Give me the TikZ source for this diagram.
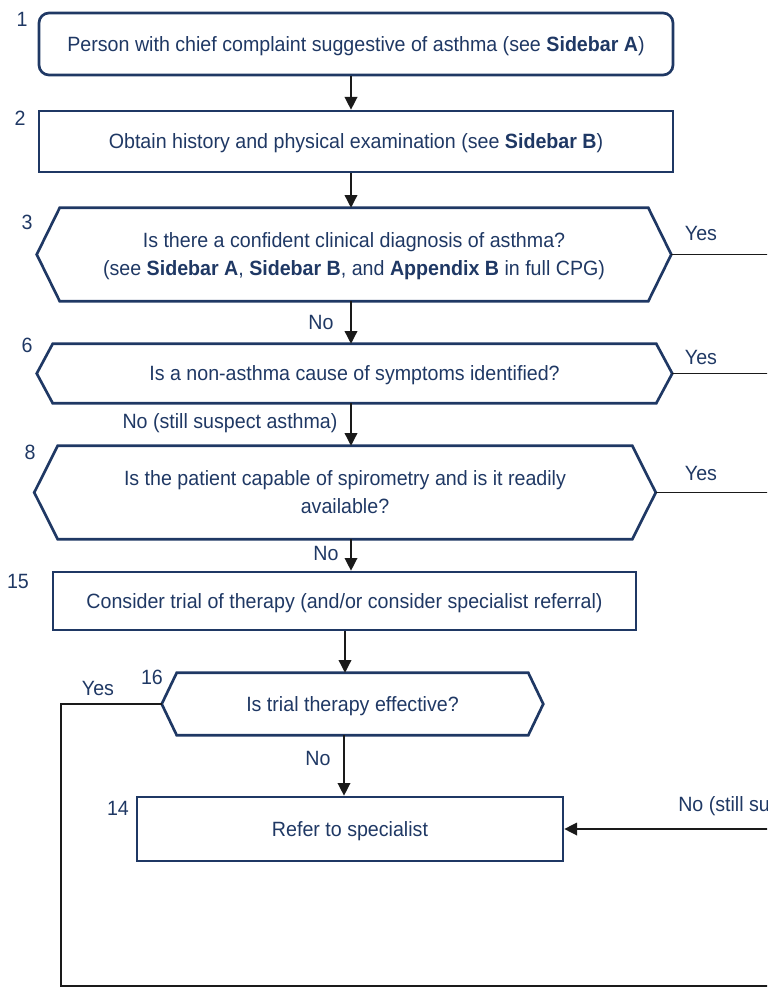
\documentclass[tikz,border=0pt]{standalone}
\usepackage{fontspec}
\setmainfont{Liberation Sans}[FakeStretch=0.95]
\usetikzlibrary{arrows.meta,calc}
\definecolor{navy}{HTML}{1F3864}
\definecolor{conn}{HTML}{1A1A1A}
\newcommand\hexout[2]{\draw[hexline] (#1.north west) -- (#1.north east) -- ($(#1.east)+(#2,0)$) coordinate (#1R) -- (#1.south east) -- (#1.south west) -- ($(#1.west)-(#2,0)$) coordinate (#1L) -- cycle;}
\begin{document}
\begin{tikzpicture}[x=0.75pt,y=-0.75pt,
  every node/.style={font=\fontsize{15.5}{21}\selectfont, text=navy, inner sep=0pt},
  boxstyle/.style={draw=navy, line width=2pt, align=center, text depth=-1.2pt},
  hexnode/.style={align=center, text depth=-1.2pt},
  hexline/.style={draw=navy, line width=2pt, line join=miter},
  arr/.style={draw=conn, line width=1pt, -{Triangle[length=9.5pt,width=9.5pt]}},
  ln/.style={draw=conn, line width=1pt}
]
\useasboundingbox (0,0) rectangle (767,988);
\clip (0,0) rectangle (767,988);
\coordinate (edge) at (790,0);
\coordinate (ax) at (351,0);
\coordinate (bx) at (345,0);
\coordinate (cx) at (344,0);
\coordinate (lb) at (61,986);

% boxes
\node[boxstyle, rounded corners=7.5pt, minimum width=475.5pt, minimum height=46.5pt] (b1) at (356,44) {Person with chief complaint suggestive of asthma (see \textbf{Sidebar A})};
\node[boxstyle, minimum width=475.5pt, minimum height=45.75pt] (b2) at (356,141.5) {Obtain history and physical examination (see \textbf{Sidebar B})};
\node[hexnode, minimum width=441pt, minimum height=69.75pt] (h3) at (354,254.5) {Is there a confident clinical diagnosis of asthma?\\(see \textbf{Sidebar A}, \textbf{Sidebar B}, and \textbf{Appendix B} in full CPG)};
\hexout{h3}{23}
\node[hexnode, minimum width=452.25pt, minimum height=44.25pt] (h6) at (354.5,373.5) {Is a non-asthma cause of symptoms identified?};
\hexout{h6}{16}
\node[hexnode, minimum width=430.5pt, minimum height=69.75pt] (h8) at (345,492.5) {Is the patient capable of spirometry and is it readily\\available?};
\hexout{h8}{23.5}
\node[boxstyle, minimum width=437.25pt, minimum height=43.5pt] (b15) at (344.5,601) {Consider trial of therapy (and/or consider specialist referral)};
\node[hexnode, minimum width=263.25pt, minimum height=46.5pt] (h16) at (352.5,704) {Is trial therapy effective?};
\hexout{h16}{15}
\node[boxstyle, minimum width=319.5pt, minimum height=48pt] (b14) at (350,829) {Refer to specialist};

% step numbers
\node (n1) at (22,19) {1};
\node (n2) at (20,118) {2};
\node (n3) at (27,222) {3};
\node (n6) at (27,345) {6};
\node (n8) at (30,452) {8};
\node (n15) at (18,581) {15};
\node (n16) at (152,677) {16};
\node (n14) at (118,808) {14};

% connectors
\draw[arr] (b1.south -| ax) -- (b2.north -| ax);
\draw[arr] (b2.south -| ax) -- (h3.north -| ax);
\draw[arr] (h3.south -| ax) -- (h6.north -| ax);
\draw[arr] (h6.south -| ax) -- (h8.north -| ax);
\draw[arr] (h8.south -| ax) -- (b15.north -| ax);
\draw[arr] (b15.south -| bx) -- (h16.north -| bx);
\draw[arr] (h16.south -| cx) -- (b14.north -| cx);
\draw[ln] (h3R) -- (h3R -| edge);
\draw[ln] (h6R) -- (h6R -| edge);
\draw[ln] (h8R) -- (h8R -| edge);
\draw[ln] (h16L) -| (lb) -- (lb -| edge);
\draw[arr] (b14.east -| edge) -- (b14.east);

% connector labels
\node (y3) at (701,233) {Yes};
\node (y6) at (701,357) {Yes};
\node (y8) at (701,473) {Yes};
\node (y16) at (98,688) {Yes};
\node (no3) at (321,322) {No};
\node (no6) at (230,423) {No (still suspect asthma)};
\node (no8) at (326,553) {No};
\node (no16) at (318,758) {No};
\node[anchor=west] (no14) at (678,806) {No (still suspect asthma)};
\end{tikzpicture}
\end{document}
